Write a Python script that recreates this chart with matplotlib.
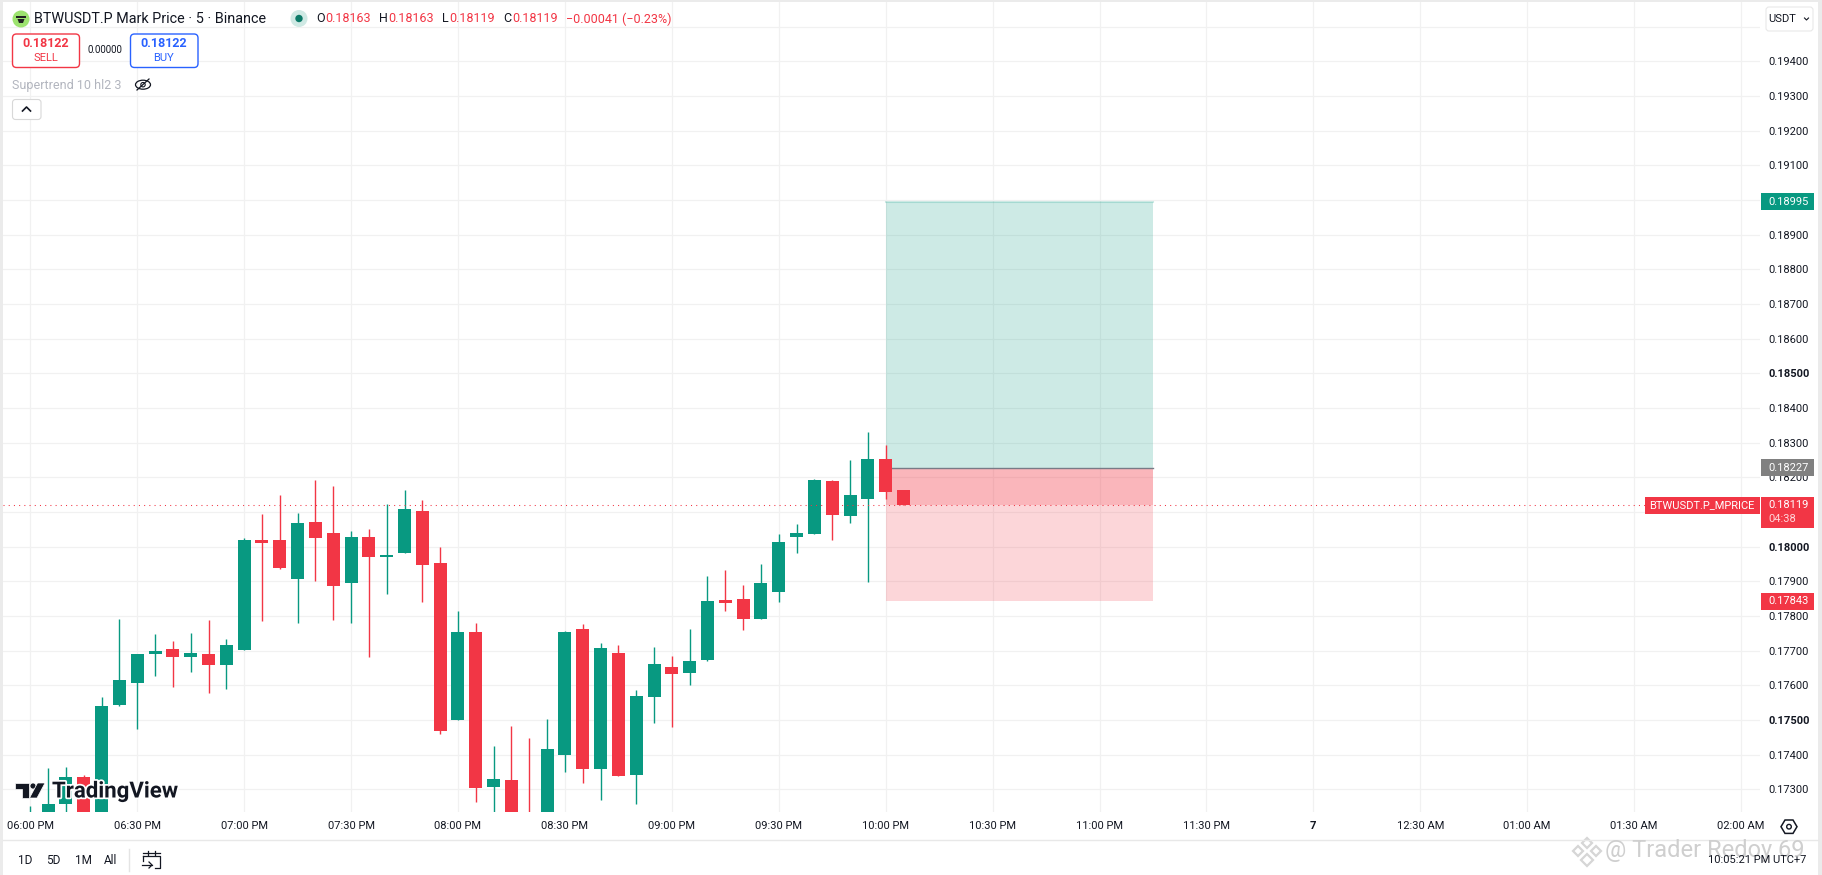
import numpy as np
import matplotlib
matplotlib.use("Agg")
import matplotlib.pyplot as plt
import matplotlib.patheffects as pe
from matplotlib.patches import Rectangle, FancyBboxPatch, Circle, Polygon, Ellipse
from matplotlib.transforms import blended_transform_factory

plt.rcParams['font.family'] = ['Roboto', 'DejaVu Sans']

# 5 minute candles, first one is 06:00 PM
opens = [0.17200, 0.17215, 0.17258, 0.17336, 0.17220, 0.17543, 0.17607, 0.17690, 0.17705, 0.17682,
         0.17690, 0.17659, 0.17702, 0.18019, 0.18019, 0.17907, 0.18071, 0.18039, 0.17895, 0.18028,
         0.17970, 0.17982, 0.18103, 0.17953, 0.17500, 0.17754, 0.17307, 0.17327, 0.17230, 0.17215,
         0.17399, 0.17763, 0.17359, 0.17693, 0.17341, 0.17566, 0.17653, 0.17636, 0.17673, 0.17846,
         0.17849, 0.17791, 0.17869, 0.18028, 0.18037, 0.18189, 0.18088, 0.18138, 0.18253, 0.18163]
highs = [0.17252, 0.17362, 0.17364, 0.17341, 0.17566, 0.17791, 0.17690, 0.17748, 0.17728, 0.17751,
         0.17788, 0.17734, 0.18025, 0.18094, 0.18149, 0.18097, 0.18192, 0.18175, 0.18045, 0.18051,
         0.18123, 0.18163, 0.18135, 0.17999, 0.17814, 0.17780, 0.17425, 0.17483, 0.17448, 0.17503,
         0.17757, 0.17777, 0.17722, 0.17716, 0.17587, 0.17711, 0.17685, 0.17763, 0.17915, 0.17933,
         0.17889, 0.17950, 0.18037, 0.18065, 0.18195, 0.18192, 0.18250, 0.18331, 0.18293, 0.18163]
lows = [0.17190, 0.17200, 0.17210, 0.17200, 0.17205, 0.17540, 0.17474, 0.17627, 0.17595, 0.17638,
        0.17578, 0.17589, 0.17702, 0.17786, 0.17936, 0.17780, 0.17901, 0.17788, 0.17780, 0.17682,
        0.17863, 0.17982, 0.17840, 0.17460, 0.17500, 0.17263, 0.17210, 0.17205, 0.17190, 0.17200,
        0.17350, 0.17318, 0.17269, 0.17339, 0.17258, 0.17491, 0.17480, 0.17601, 0.17670, 0.17814,
        0.17760, 0.17791, 0.17840, 0.17982, 0.18037, 0.18019, 0.18068, 0.17898, 0.18138, 0.18119]
closes = [0.17225, 0.17258, 0.17336, 0.17220, 0.17540, 0.17615, 0.17690, 0.17699, 0.17682, 0.17693,
          0.17659, 0.17716, 0.18019, 0.18011, 0.17938, 0.18068, 0.18025, 0.17887, 0.18028, 0.17970,
          0.17976, 0.18109, 0.17947, 0.17468, 0.17754, 0.17304, 0.17330, 0.17220, 0.17200, 0.17416,
          0.17754, 0.17359, 0.17708, 0.17339, 0.17569, 0.17662, 0.17633, 0.17670, 0.17843, 0.17837,
          0.17791, 0.17895, 0.18013, 0.18039, 0.18192, 0.18091, 0.18149, 0.18253, 0.18158, 0.18119]

time_labels = ['06:00 PM', '06:30 PM', '07:00 PM', '07:30 PM', '08:00 PM', '08:30 PM', '09:00 PM',
               '09:30 PM', '10:00 PM', '10:30 PM', '11:00 PM', '11:30 PM', '7', '12:30 AM',
               '01:00 AM', '01:30 AM', '02:00 AM']
price_ticks = [0.173, 0.174, 0.175, 0.176, 0.177, 0.178, 0.179, 0.180, 0.181, 0.182, 0.183,
               0.184, 0.185, 0.186, 0.187, 0.188, 0.189, 0.190, 0.191, 0.192, 0.193, 0.194, 0.195]
bold_prices = [0.175, 0.180, 0.185]

last_price = 0.18119
take_profit = 0.18995
entry = 0.18227
stop_loss = 0.17843
pos_start, pos_end = 48, 63

GREEN = '#089981'
RED = '#F23645'
BLUE = '#2962FF'
INK = '#131722'
GRID = '#F1F1F1'

# pixel scale of the screenshot
W, H = 1822, 875
BAR_PX = 17.82
PRICE_PX = 34667
left, right, top, bottom = 3, 1760, 2, 811.7

fig = plt.figure(figsize=(W / 100, H / 100), dpi=100, facecolor='white')
ax = fig.add_axes([left / W, 1 - bottom / H, (right - left) / W, (bottom - top) / H])
ax.set_xlim((left - 30.3) / BAR_PX, (right - 30.3) / BAR_PX)
ax.set_ylim(0.182 - (bottom - 477.3) / PRICE_PX, 0.182 + (477.3 - top) / PRICE_PX)
for s in ax.spines.values():
    s.set_visible(False)

ax.set_xticks(np.arange(len(time_labels)) * 6)
ax.set_xticklabels(time_labels, fontsize=8, color=INK)
ax.get_xticklabels()[12].set_fontweight('bold')
ax.yaxis.tick_right()
ax.set_yticks(price_ticks)
ax.set_yticklabels(['' if p == 0.195 else '%.5f' % p for p in price_ticks], fontsize=8, color=INK)
for lab, p in zip(ax.get_yticklabels(), price_ticks):
    if p in bold_prices:
        lab.set_fontweight('bold')
ax.tick_params(axis='x', length=0, pad=7)
ax.tick_params(axis='y', length=0, pad=5.8)
ax.grid(True, color=GRID, linewidth=0.9)
ax.set_axisbelow(True)

# position tool
ax.add_patch(Rectangle((pos_start, entry), pos_end - pos_start, take_profit - entry,
                       facecolor=GREEN, alpha=0.2, edgecolor='none', zorder=1.5))
ax.add_patch(Rectangle((pos_start, stop_loss), pos_end - pos_start, entry - stop_loss,
                       facecolor=RED, alpha=0.2, edgecolor='none', zorder=1.5))
ax.add_patch(Rectangle((pos_start, last_price), pos_end - pos_start, entry - last_price,
                       facecolor=RED, alpha=0.2, edgecolor='none', zorder=1.6))
ax.plot([pos_start, pos_end], [take_profit, take_profit], color=GREEN, alpha=0.2, lw=1.5, zorder=1.7)
ax.plot([pos_start, pos_end], [entry, entry], color='#787B86', lw=1, zorder=1.7)

# candles
idx = np.arange(len(opens))
o = np.array(opens)
c = np.array(closes)
colors = [GREEN if b >= a else RED for a, b in zip(opens, closes)]
ax.vlines(idx, lows, highs, colors=colors, linewidth=1.0, zorder=3)
ax.bar(idx, np.abs(c - o), bottom=np.minimum(o, c), width=13 / BAR_PX, color=colors, zorder=4)

# last price line stops at the symbol label
ax.plot([ax.get_xlim()[0], (1645 - 30.3) / BAR_PX], [last_price, last_price], color=RED,
        lw=0.75, linestyle=(0, (1, 4)), zorder=5)

# overlay in screenshot pixels for the chart's interface parts
ui = fig.add_axes([0, 0, 1, 1], zorder=10)
ui.set_xlim(0, W)
ui.set_ylim(H, 0)
ui.axis('off')
ui.patch.set_alpha(0)

ui.add_patch(Rectangle((0, 0), 3, H, color='#EBEBEB', lw=0))
ui.add_patch(Rectangle((0, 0), W, 2, color='#EBEBEB', lw=0))
ui.add_patch(Rectangle((1818, 0), 4, H, color='#EBEBEB', lw=0))
ui.plot([3, 1818], [840, 840], color='#E8E8E8', lw=1)

# price tags
tag_tf = blended_transform_factory(ui.transData, ax.transData)


def price_tag(price, text, color):
    h = 17 / PRICE_PX
    ui.add_patch(Rectangle((1761, price - h / 2), 53, h, transform=tag_tf, color=color, lw=0, clip_on=False))
    ui.text(1768, price, text, transform=tag_tf, color='white', fontsize=8, va='center', ha='left')


price_tag(take_profit, '%.5f' % take_profit, GREEN)
price_tag(entry, '%.5f' % entry, '#808080')
price_tag(stop_loss, '%.5f' % stop_loss, RED)

ui.add_patch(Rectangle((1645, 497), 115, 17, color=RED, lw=0))
ui.text(1649, 505.5, 'BTWUSDT.P_MPRICE', color='white', fontsize=8, va='center')
ui.add_patch(Rectangle((1761, 497), 53, 31, color=RED, lw=0))
ui.text(1768, 505.5, '%.5f' % last_price, color='white', fontsize=8, va='center')
ui.text(1768, 519.5, '04:38', color='#FFD5D9', fontsize=8, va='center')

# currency button
ui.add_patch(FancyBboxPatch((1766, 7), 47, 24, boxstyle='round,pad=0,rounding_size=3', fc='white', ec='#E8E8E8', lw=0.8))
ui.text(1768.5, 19, 'USDT', fontsize=8, color=INK, va='center')
ui.plot([1804.5, 1806.5, 1808.5], [18, 20, 18], color=INK, lw=0.8)

# header
ui.add_patch(Circle((21, 19), 8.5, fc='#9DE36F', ec='none'))
ui.add_patch(Rectangle((16, 15.5), 10, 2.5, fc='#222222', lw=0))
ui.add_patch(Polygon([(17.5, 19), (24.5, 19), (23, 23), (19, 23)], fc='#222222', lw=0))
ui.text(34, 19, 'BTWUSDT.P Mark Price · 5 · Binance', fontsize=10.4, color=INK, va='center')
ui.add_patch(Circle((299, 18.5), 8.5, fc='#CFE9E4', ec='none'))
ui.add_patch(Circle((299, 18.5), 3.7, fc='#0B7A68', ec='none'))
for x_l, lab, val in [(316, 'O', '0.18163'), (379, 'H', '0.18163'), (442, 'L', '0.18119'), (503.5, 'C', '0.18119')]:
    t = ui.text(x_l, 19, lab, fontsize=9, color=INK, va='center')
    ui.text(x_l + {'O': 9.5, 'H': 9.5, 'L': 7.5, 'C': 9}[lab], 19, val, fontsize=9, color=RED, va='center')
ui.text(566, 19, '\u22120.00041 (\u22120.23%)', fontsize=9, color=RED, va='center')

# sell / buy buttons
ui.add_patch(FancyBboxPatch((12.5, 34), 67, 33.5, boxstyle='round,pad=0,rounding_size=4', fc='white', ec=RED, lw=1))
ui.text(46, 43.7, '0.18122', fontsize=9, fontweight='bold', color=RED, ha='center', va='center')
ui.text(46, 58, 'SELL', fontsize=8, color=RED, ha='center', va='center')
ui.text(104.5, 50, '0.00000', fontsize=7, color=INK, ha='center', va='center')
ui.add_patch(FancyBboxPatch((130.5, 34), 67.5, 33.5, boxstyle='round,pad=0,rounding_size=4', fc='white', ec=BLUE, lw=1))
ui.text(164, 43.7, '0.18122', fontsize=9, fontweight='bold', color=BLUE, ha='center', va='center')
ui.text(164, 58, 'BUY', fontsize=8, color=BLUE, ha='center', va='center')

# indicator row
ui.text(12.5, 85, 'Supertrend 10 hl2 3', fontsize=9, color='#B2B5BE', va='center')
ui.add_patch(Ellipse((143, 84.7), 15, 9, fc='none', ec=INK, lw=0.9))
ui.add_patch(Circle((143, 84.7), 2.2, fc='none', ec=INK, lw=0.8))
ui.plot([137, 149], [90, 79], color=INK, lw=0.9)
ui.add_patch(FancyBboxPatch((12.5, 99.5), 28.5, 20, boxstyle='round,pad=0,rounding_size=3', fc='white', ec='#D8D8D8', lw=0.8))
ui.plot([22.5, 26.5, 30.5], [111, 107, 111], color=INK, lw=1.2)

# TradingView logo
ui.add_patch(Polygon([(15, 783), (29, 783), (29, 798), (22, 798), (22, 789), (15, 789)], fc=INK, ec='white', lw=0.5))
ui.add_patch(Circle((33, 786), 3, fc=INK, ec='white', lw=0.5))
ui.add_patch(Polygon([(37.5, 783), (45, 783), (37, 798), (29.5, 798)], fc=INK, ec='white', lw=0.5))
ui.text(52, 791.5, 'TradingView', fontsize=16, fontweight='bold', color=INK, va='center',
        path_effects=[pe.withStroke(linewidth=2.5, foreground='white')])

# range buttons
for x_b, lab in zip([25, 53, 83, 110.5], ['1D', '5D', '1M', 'All']):
    ui.text(x_b, 860, lab, fontsize=8.5, color=INK, ha='center', va='center')
ui.plot([128.5, 128.5], [849, 871], color='#E4E4E4', lw=1)
ui.plot([143, 160, 160, 155], [856, 856, 868, 868], color=INK, lw=0.9)
ui.plot([143, 143], [856, 861], color=INK, lw=0.9)
ui.plot([143, 160], [853, 853], color=INK, lw=0.9)
ui.plot([148, 148], [851, 855], color=INK, lw=0.9)
ui.plot([155, 155], [851, 855], color=INK, lw=0.9)
ui.plot([142, 152], [865, 865], color=INK, lw=0.9)
ui.plot([149, 152, 149], [862, 865, 868], color=INK, lw=0.9)

# gear
ui.add_patch(Polygon([(1781, 826.7), (1785, 820), (1793, 820), (1797, 826.7), (1793, 833.4), (1785, 833.4)],
                     fc='none', ec=INK, lw=1.1))
ui.add_patch(Circle((1789, 826.7), 2.3, fc='none', ec=INK, lw=1))

# repost watermark
for cx, cy, s in [(1587, 843, 5), (1578, 851, 5), (1596, 851, 5), (1587, 860, 6)]:
    ui.add_patch(Polygon([(cx - s, cy), (cx, cy - s), (cx + s, cy), (cx, cy + s)], fc='none', ec='#D6D6D6', lw=1.6))
ui.text(1605, 851, '@ Trader Redoy 69', fontsize=17, color='#CFCFCF', va='center')
ui.text(1806.5, 860, '10:05:21 PM UTC+7', fontsize=8, color=INK, ha='right', va='center')

fig.savefig('out.png', dpi=100)
